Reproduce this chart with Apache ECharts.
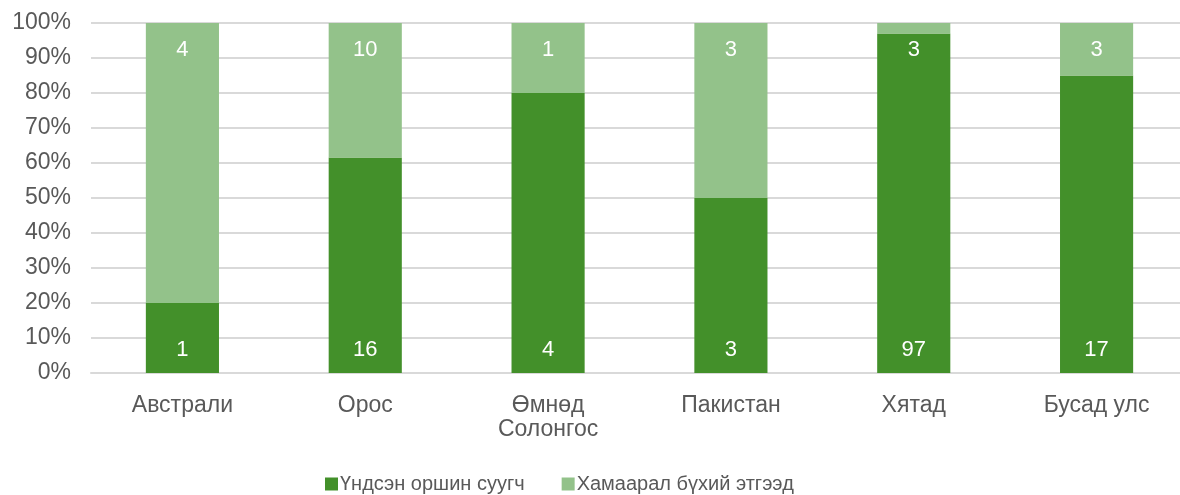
<!DOCTYPE html>
<html><head><meta charset="utf-8">
<script src="https://cdn.jsdelivr.net/npm/echarts@6/dist/echarts.min.js"></script>
<style>html,body{margin:0;padding:0;background:#fff}#c{width:1180px;height:495px}</style>
</head><body><div id="c"></div>
<script>
const categories = ['Австрали', 'Орос', 'Өмнөд\nСолонгос', 'Пакистан', 'Хятад', 'Бусад улс'];
const seriesNames = ['Үндсэн оршин суугч', 'Хамаарал бүхий этгээд'];
const residents = [1, 16, 4, 3, 97, 17];
const related = [4, 10, 1, 3, 3, 3];
const yTicks = [0, 10, 20, 30, 40, 50, 60, 70, 80, 90, 100];

const totals = residents.map((v, i) => v + related[i]);
const toData = arr => arr.map((v, i) => ({ value: v / totals[i] * 100, raw: v }));
const font = 'Liberation Sans, Arial, sans-serif';
const chart = echarts.init(document.getElementById('c'));
chart.setOption({
  animation: false,
  textStyle: { fontFamily: font },
  grid: { left: 91, right: -8, top: 23, bottom: 122, containLabel: false, outerBoundsMode: 'none' },
  legend: {
    top: 469, left: 320, itemWidth: 13, itemHeight: 13, itemGap: 37,
    icon: 'rect',
    textStyle: { fontSize: 20, color: '#595959', fontFamily: font, padding: [0, 0, 0, -3] },
    data: seriesNames
  },
  xAxis: {
    type: 'category', data: categories,
    axisLine: { lineStyle: { color: '#d9d9d9', width: 2 } },
    axisTick: { show: false },
    axisLabel: { fontSize: 23, color: '#595959', margin: 21, lineHeight: 24, fontFamily: font }
  },
  yAxis: {
    type: 'value', min: 0, max: 100, interval: 10,
    axisLine: { show: false }, axisTick: { show: false },
    axisLabel: { fontSize: 23, color: '#595959', margin: 20, fontFamily: font,
      formatter: v => yTicks.includes(v) ? v + '%' : '' },
    splitLine: { lineStyle: { color: '#d9d9d9', width: 2 } }
  },
  series: [
    { name: seriesNames[0], type: 'bar', stack: 's', data: toData(residents), barWidth: '40%',
      itemStyle: { color: '#43902A' },
      label: { show: true, position: 'insideBottom', distance: 12, color: '#fff', fontSize: 22, fontFamily: font,
        formatter: p => p.data.raw } },
    { name: seriesNames[1], type: 'bar', stack: 's', data: toData(related), barWidth: '40%',
      itemStyle: { color: '#93C28A' },
      label: { show: true, position: 'insideTop', distance: 16, color: '#fff', fontSize: 22, fontFamily: font,
        formatter: p => p.data.raw } }
  ]
});
</script></body></html>
